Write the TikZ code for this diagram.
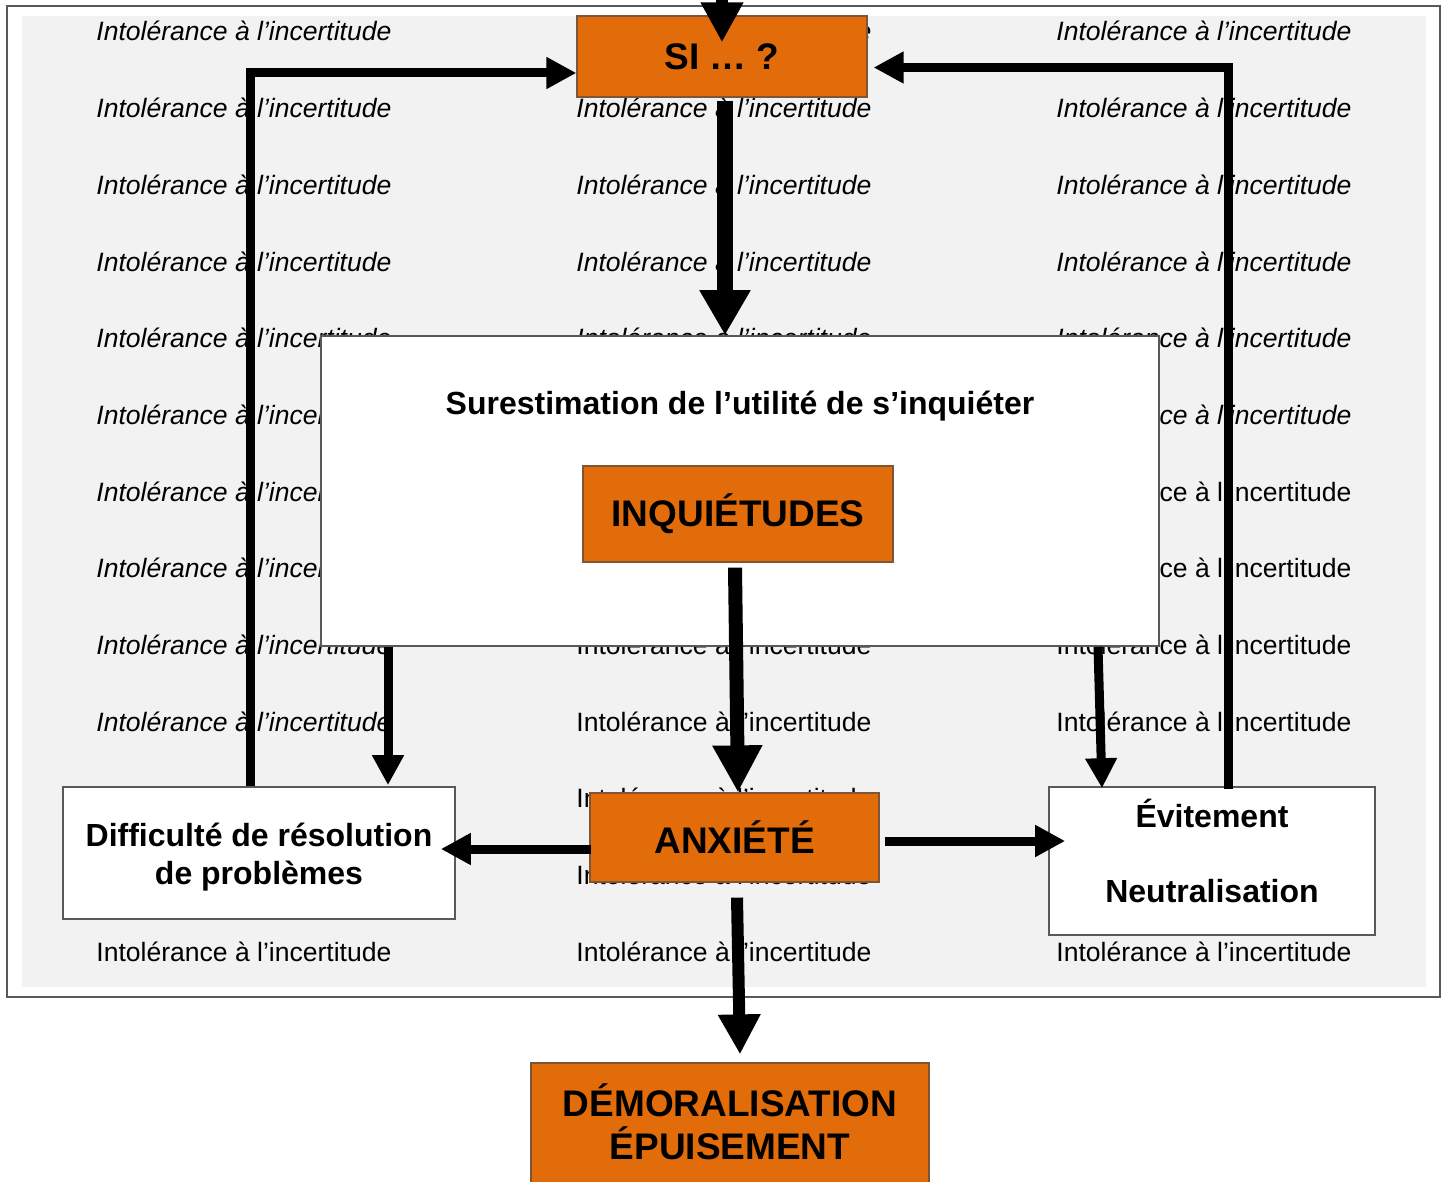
\documentclass[tikz,border=0pt]{standalone}
\usepackage{fontspec}
\setmainfont{Liberation Sans}
\usetikzlibrary{arrows.meta,calc}
\definecolor{orng}{RGB}{227,108,10}
\definecolor{orngdraw}{RGB}{125,85,55}
\definecolor{bggray}{RGB}{242,242,242}
\definecolor{framegray}{RGB}{89,89,89}
\def\px{0.5pt}
\begin{document}
\begin{tikzpicture}[x=0.5pt,y=-0.5pt,
  bgtext/.style={anchor=base west, inner sep=0pt, font=\fontsize{13.27pt}{16pt}\selectfont},
  bgit/.style={anchor=base west, inner sep=0pt, font=\fontsize{13.27pt}{16pt}\selectfont\itshape},
  orangebox/.style={draw=orngdraw, line width=0.6pt, fill=orng, inner sep=0pt, align=center,
    font=\bfseries\fontsize{18.5pt}{21.5pt}\selectfont},
  whitebox/.style={draw=framegray, line width=0.8pt, fill=white, inner sep=0pt, align=center},
  boxlabel/.style={inner sep=0pt, align=center, font=\bfseries\fontsize{16pt}{19pt}\selectfont},
  arrbig/.style={line width=8pt, -{Triangle[length=22.5pt,width=24pt]}},
  arrmid/.style={line width=7pt, -{Triangle[length=23.5pt,width=23.5pt]}},
  arrtop/.style={line width=6pt, -{Triangle[length=20pt,width=20pt]}},
  arrthin/.style={line width=4.5pt, -{Triangle[length=15pt,width=15pt]}},
]
\useasboundingbox (0,0) rectangle (1447,1182);
\clip (0,0) rectangle (1447,1182);
\fill[white] (0,0) rectangle (1447,1182);
\draw[framegray, line width=1pt] (7,6) rectangle (1440,997);
\fill[bggray] (22,16) rectangle (1426,987);

% background text (only the copies that show)
\foreach \r in {1,...,10}
  {\node[bgit] (ta-\r) at (96,{41+76.67*(\r-1)}) {Intolérance à l’incertitude};}
\node[bgtext] (ta-13) at (96,{41+76.67*12}) {Intolérance à l’incertitude};
\foreach \r in {1,...,5}
  {\node[bgit] (tb-\r) at (576,{41+76.67*(\r-1)}) {Intolérance à l’incertitude};}
\foreach \r in {9,...,13}
  {\node[bgtext] (tb-\r) at (576,{41+76.67*(\r-1)}) {Intolérance à l’incertitude};}
\foreach \r in {1,...,6}
  {\node[bgit] (tc-\r) at (1056,{41+76.67*(\r-1)}) {Intolérance à l’incertitude};}
\foreach \r in {7,...,10,13}
  {\node[bgtext] (tc-\r) at (1056,{41+76.67*(\r-1)}) {Intolérance à l’incertitude};}

% boxes
\node[orangebox, minimum width=290*\px, minimum height=81*\px] (SI) at (722,56.5) {SI … ?};
\node[whitebox, minimum width=838*\px, minimum height=310*\px] (sur) at (740,491) {};
\node[boxlabel] (surlabel) at (740,406.5) {Surestimation de l’utilité de s’inquiéter};
\node[orangebox, minimum width=310*\px, minimum height=96*\px] (INQ) at (738,514) {INQUIÉTUDES};
\node[orangebox, minimum width=289*\px, minimum height=89*\px] (ANX) at (734.5,837.5) {ANXIÉTÉ};
\node[whitebox, minimum width=392*\px, minimum height=132*\px] (DIFF) at (259,853) {};
\node[boxlabel] (difflabel) at (259,857) {Difficulté de résolution\\de problèmes};
\node[whitebox, minimum width=326*\px, minimum height=148*\px] (EVIT) at (1212,861) {};
\node[boxlabel] (evlabel) at (1212,850.5) {Évitement\\[18.5pt]Neutralisation};
\node[orangebox, minimum width=398*\px, minimum height=137*\px] (DEMO) at (730,1131.5) {};
\node[inner sep=0pt, align=center, font=\bfseries\fontsize{18.5pt}{21.5pt}\selectfont] (demolabel) at (730,1121.5) {DÉMORALISATION\\ÉPUISEMENT};

% connectors
\coordinate (topin) at (722,-10);
\draw[arrtop] (topin) -- ($(SI.north)+(0,27)$);
\draw[arrbig] ($(SI.south)+(3,3)$) -- ($(sur.north)+(-15,0)$);
\draw[arrthin] ($(DIFF.north)+(-9,0)$) |- ($(SI.west)+(0,16.5)$);
\draw[arrthin] ($(EVIT.north)+(16,3)$) |- ($(SI.east)+(6,11)$);
\draw[arrmid] ($(INQ.south)+(-3,5)$) -- ($(ANX.north)+(3.5,0)$);
\draw[arrthin] ($(sur.south)+(-352,0)$) -- ($(DIFF.north)+(129,-1)$);
\draw[arrthin] ($(sur.south)+(358,0)$) -- ($(EVIT.north)+(-110,2)$);
\draw[arrthin] ($(ANX.west)+(2,11.5)$) -- ($(DIFF.east)+(-15,-4)$);
\draw[arrthin] ($(ANX.east)+(5,3.5)$) -- ($(EVIT.west)+(17,-20)$);
\draw[arrtop] ($(ANX.south)+(2.5,15)$) -- ($(DEMO.north)+(10,-8)$);
\end{tikzpicture}
\end{document}
